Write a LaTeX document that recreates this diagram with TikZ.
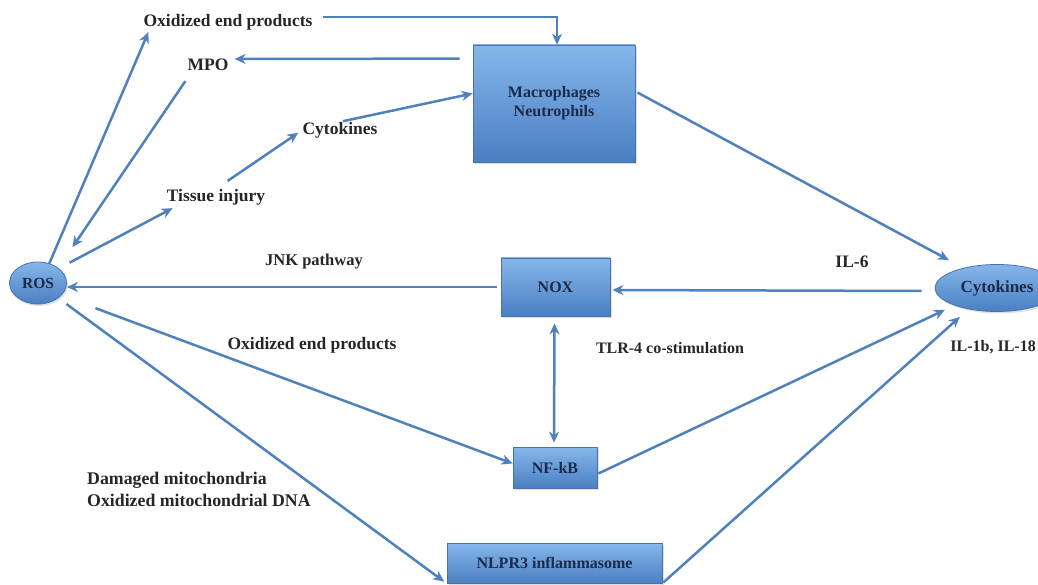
\documentclass[tikz,border=0pt]{standalone}
\usepackage{fontspec}
\setmainfont{Liberation Serif}
\usetikzlibrary{arrows.meta,calc,shadows,shapes.geometric}
\definecolor{lineblue}{HTML}{4F81BD}
\definecolor{boxtop}{HTML}{86B6EA}
\definecolor{boxbot}{HTML}{4A7FC2}
\definecolor{boxline}{HTML}{4774AE}
\definecolor{boxtext}{HTML}{1C2B4A}
\definecolor{labtext}{HTML}{262626}
\tikzset{
  arr/.style={draw=lineblue,line width=2.5pt,-{Stealth[length=11pt,width=10pt,inset=3.5pt]}},
  darr/.style={draw=lineblue,line width=2.5pt,{Stealth[length=11pt,width=10pt,inset=3.5pt]}-{Stealth[length=11pt,width=10pt,inset=3.5pt]}},
  bluebox/.style={rectangle,draw=boxline,line width=0.8pt,top color=boxtop,bottom color=boxbot,
     text=boxtext,font=\fontsize{16}{19}\selectfont\bfseries,align=center,inner sep=0pt,
     drop shadow={opacity=0.25,shadow xshift=1.5pt,shadow yshift=-2pt}},
  blueell/.style={ellipse,draw=boxline,line width=0.8pt,top color=boxtop,bottom color=boxbot,
     text=boxtext,font=\fontsize{15.5}{18}\selectfont\bfseries,inner sep=0pt,
     drop shadow={opacity=0.25,shadow xshift=1.5pt,shadow yshift=-2pt}},
  lab/.style={text=labtext,font=\fontsize{17.5}{20.5}\selectfont\bfseries,inner sep=0pt}
}
\begin{document}
\begin{tikzpicture}[x=1pt,y=-1pt]
\useasboundingbox (0,0) rectangle (1038,585);
\fill[white] (0,0) rectangle (1038,585);
% nodes
\node[blueell,minimum width=57pt,minimum height=42pt] (ros) at (38,283) {ROS};
\node[blueell,minimum width=124pt,minimum height=47pt,font=\fontsize{17}{20}\selectfont\bfseries] (cytR) at (997,288) {Cytokines};
\node[bluebox,minimum width=162pt,minimum height=117pt] (mac) at (554,103.5) {Macrophages\\Neutrophils};
\node[bluebox,minimum width=109pt,minimum height=58pt] (nox) at (555.5,287) {NOX};
\node[bluebox,minimum width=84pt,minimum height=41pt] (nfkb) at (555,467.5) {NF-kB};
\node[bluebox,minimum width=215pt,minimum height=40pt] (nlpr) at (554.5,563) {NLPR3 inflammasome};
\node[lab] (oxtop) at (228,22) {Oxidized end products};
\node[lab] (mpo) at (208,65) {MPO};
\node[lab] (cyto) at (340,130) {Cytokines};
\node[lab] (tissue) at (216,197) {Tissue injury};
\node[lab,font=\fontsize{16.5}{19.5}\selectfont\bfseries] (jnk) at (314,262) {JNK pathway};
\node[lab] (il6) at (852,262) {IL-6};
\node[lab,font=\fontsize{16}{19}\selectfont\bfseries] (tlr) at (670,348) {TLR-4 co-stimulation};
\node[lab,anchor=east,font=\fontsize{16}{19}\selectfont\bfseries] (il1) at (1036,347) {IL-1b, IL-18};
\node[lab] (oxmid) at (312,345) {Oxidized end products};
\node[lab,anchor=west,align=left,font=\fontsize{17.8}{22}\selectfont\bfseries] (dam) at (87,489) {Damaged mitochondria\\Oxidized mitochondrial DNA};
% connectors
\draw[arr] (ros.60) -- ([xshift=5pt,yshift=-2pt]oxtop.south west);
\draw[arr,shorten >=25pt] ($(mpo.south west)+(-2,10)$) -- (ros.north east);
\draw[arr,shorten <=12pt] (ros.35) -- ([xshift=6pt,yshift=-3pt]tissue.south west);
\draw[arr,shorten <=14pt,shorten >=5pt] (tissue.north) -- (cyto.west);
\draw[arr,shorten <=3pt] (cyto.north) -- ([yshift=10pt]mac.west);
\draw[arr] ($(mac.north west)+(-13,14)$) -- ($(mpo.east)+(6,-6)$);
\draw[arr] ($(oxtop.east)+(10,-5)$) -| ([xshift=3pt]mac.north);
\draw[arr] ([yshift=11pt,xshift=2pt]mac.east) -- ($(cytR.north west)+(-4,-11)$);
\draw[arr] ([xshift=-4pt]nox.west) -- (ros.east |- nox.west);
\draw[arr] ($(cytR.west)+(-13,3)$) -- ($(nox.east)+(2,3)$);
\draw[darr] ($(nox.south)+(-1,7)$) -- ($(nfkb.north)+(-1,-4)$);
\draw[arr] ($(ros.south east)+(37,10)$) -- ($(nfkb.west)+(0,-4)$);
\draw[arr,shorten <=10pt,shorten >=3pt] (ros.south east) -- (nlpr.south west);
\draw[arr] ($(nfkb.east)+(1,6)$) -- ($(cytR.south west)+(-8,5)$);
\draw[arr] ($(nlpr.south east)+(1,-1)$) -- ($(cytR.south west)+(7,12)$);
\end{tikzpicture}
\end{document}
